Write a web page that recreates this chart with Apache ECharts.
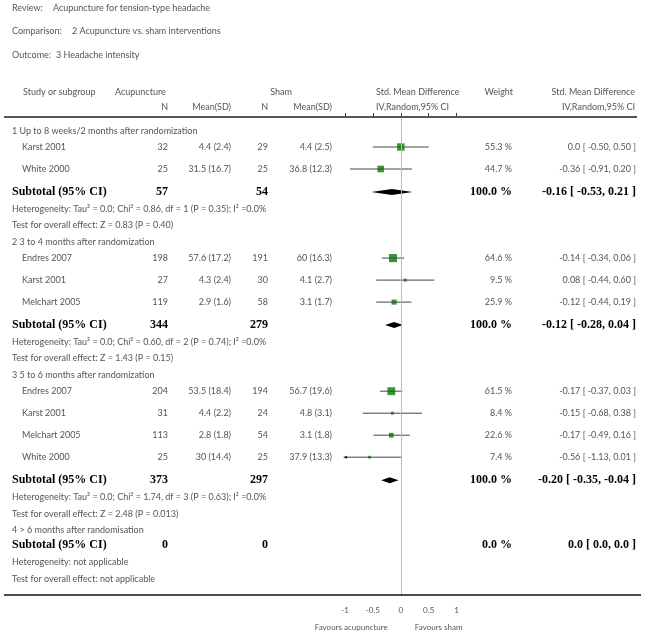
<!DOCTYPE html>
<html>
<head>
<meta charset="utf-8">
<script src="https://cdn.jsdelivr.net/npm/echarts@6/dist/echarts.min.js"></script>
<style>
html,body{margin:0;padding:0;background:#fff;}
#chart{width:647px;height:635px;}
</style>
</head>
<body>
<div id="chart"></div>
<script>
// ---------------- DATA ----------------
const reviewTitle = 'Acupuncture for tension-type headache';
const comparisonTitle = '2 Acupuncture vs. sham interventions';
const outcomeTitle = '3 Headache intensity';

const groupNames = [
  '1 Up to 8 weeks/2 months after randomization',
  '2 3 to 4 months after randomization',
  '3 5 to 6 months after randomization',
  '4 > 6 months after randomisation'
];

const studyNames = ['Karst 2001', 'White 2000', 'Endres 2007', 'Karst 2001', 'Melchart 2005',
                    'Endres 2007', 'Karst 2001', 'Melchart 2005', 'White 2000'];
const studyGroup = [0, 0, 1, 1, 1, 2, 2, 2, 2];
const acuN     = [32, 25, 198, 27, 119, 204, 31, 113, 25];
const acuMean  = [4.4, 31.5, 57.6, 4.3, 2.9, 53.5, 4.4, 2.8, 30];
const acuSD    = [2.4, 16.7, 17.2, 2.4, 1.6, 18.4, 2.2, 1.8, 14.4];
const shamN    = [29, 25, 191, 30, 58, 194, 24, 54, 25];
const shamMean = [4.4, 36.8, 60, 4.1, 3.1, 56.7, 4.8, 3.1, 37.9];
const shamSD   = [2.5, 12.3, 16.3, 2.7, 1.7, 19.6, 3.1, 1.8, 13.3];
const smd      = [0.0, -0.36, -0.14, 0.08, -0.12, -0.17, -0.15, -0.17, -0.56];
const ciLow    = [-0.50, -0.91, -0.34, -0.44, -0.44, -0.37, -0.68, -0.49, -1.13];
const ciHigh   = [0.50, 0.20, 0.06, 0.60, 0.19, 0.03, 0.38, 0.16, 0.01];
const weight   = [55.3, 44.7, 64.6, 9.5, 25.9, 61.5, 8.4, 22.6, 7.4];

const subAcuN   = [57, 344, 373, 0];
const subShamN  = [54, 279, 297, 0];
const subSmd    = [-0.16, -0.12, -0.20, 0.0];
const subLow    = [-0.53, -0.28, -0.35, 0.0];
const subHigh   = [0.21, 0.04, -0.04, 0.0];
const subWeight = [100.0, 100.0, 100.0, 0.0];
const hetText = [
  'Heterogeneity: Tau\u00b2 = 0.0; Chi\u00b2 = 0.86, df = 1 (P = 0.35); I\u00b2 =0.0%',
  'Heterogeneity: Tau\u00b2 = 0.0; Chi\u00b2 = 0.60, df = 2 (P = 0.74); I\u00b2 =0.0%',
  'Heterogeneity: Tau\u00b2 = 0.0; Chi\u00b2 = 1.74, df = 3 (P = 0.63); I\u00b2 =0.0%',
  'Heterogeneity: not applicable'
];
const testText = [
  'Test for overall effect: Z = 0.83 (P = 0.40)',
  'Test for overall effect: Z = 1.43 (P = 0.15)',
  'Test for overall effect: Z = 2.48 (P = 0.013)',
  'Test for overall effect: not applicable'
];
const xTicks = [-1, -0.5, 0, 0.5, 1];
const favoursLeft = 'Favours acupuncture';
const favoursRight = 'Favours sham';

// ---------------- LAYOUT ----------------
const W = 647, H = 635;
const tableTop = 117, tableBottom = 595;
const plotLeft = 345, plotWidth = 111.6;
const SANS = 'Lato, "Open Sans", sans-serif';
const SERIF = '"Liberation Serif", "DejaVu Serif", serif';
const TXT = '#555';
const FS = 9;

// build rows (y in layout units = px below the header rule)
const rows = [];
(function buildRows() {
  let y = 14, prev = null;
  function add(kind, extra) {
    if (prev !== null) {
      let adv = 16.7;
      if (kind === 'study') adv = (prev === 'study') ? 22 : 16;
      else if (kind === 'subtotal') adv = (prev === 'study') ? 23 : 15;
      y += adv;
    }
    rows.push(Object.assign({ kind: kind, y: y }, extra));
    prev = kind;
  }
  groupNames.forEach(function (g, gi) {
    add('group', { g: gi });
    studyNames.forEach(function (s, si) { if (studyGroup[si] === gi) add('study', { i: si }); });
    add('subtotal', { g: gi });
    add('het', { g: gi });
    add('test', { g: gi });
  });
})();

function fmt2(v) { return v === 0 ? '0.0' : v.toFixed(2); }
function fmtCI(e, l, h) { return fmt2(e) + ' [ ' + fmt2(l) + ', ' + fmt2(h) + ' ]'; }

const studyRows = rows.filter(r => r.kind === 'study');
const ciData = studyRows.map(r => [smd[r.i], ciLow[r.i], ciHigh[r.i], r.y]);
const sqData = studyRows.map(r => [smd[r.i], r.y, weight[r.i]]);
const dmData = rows.filter(r => r.kind === 'subtotal' && subWeight[r.g] > 0)
  .map(r => [subSmd[r.g], subLow[r.g], subHigh[r.g], r.y]);

const chart = echarts.init(document.getElementById('chart'), null, { renderer: 'canvas' });

const option = {
  backgroundColor: '#fff',
  animation: false,
  grid: { left: plotLeft, width: plotWidth, top: tableTop, height: tableBottom - tableTop },
  xAxis: {
    type: 'value', min: -1, max: 1, interval: 0.5,
    axisLine: { show: false },
    axisTick: { show: true, inside: true, length: 4, lineStyle: { color: '#333', width: 1 } },
    splitLine: { show: false },
    axisLabel: { show: true, margin: 11, fontSize: 8, color: TXT, fontFamily: SANS,
      formatter: function (v) { return String(v); } }
  },
  yAxis: { type: 'value', min: 0, max: tableBottom - tableTop, inverse: true, show: false },
  series: [
    {
      type: 'scatter', name: 'squares', data: sqData, z: 3,
      symbol: 'rect',
      symbolSize: function (val) { return 10 * Math.sqrt(val[2] / 100); },
      itemStyle: { color: '#008000' },
      markLine: {
        silent: true, symbol: 'none', label: { show: false },
        lineStyle: { color: '#bbb', width: 1, type: 'solid' },
        data: [{ xAxis: 0 }]
      }
    },
    {
      type: 'custom', name: 'ci', data: ciData, z: 4, clip: false,
      encode: { x: [0, 1, 2], y: 3 },
      renderItem: function (params, api) {
        const y = api.value(3);
        const lo = api.value(1), hi = api.value(2);
        const p1 = api.coord([Math.max(lo, -1), y]);
        const p2 = api.coord([Math.min(hi, 1), y]);
        const children = [{
          type: 'line',
          shape: { x1: p1[0], y1: p1[1], x2: p2[0], y2: p2[1] },
          style: { stroke: '#444', lineWidth: 1 }
        }];
        if (lo < -1) {
          children.push({ type: 'polygon', shape: { points: [[p1[0] - 2, p1[1]], [p1[0] + 2, p1[1] - 1.5], [p1[0] + 2, p1[1] + 1.5]] },
            style: { fill: '#222' } });
        }
        if (hi > 1) {
          children.push({ type: 'polygon', shape: { points: [[p2[0] + 2, p2[1]], [p2[0] - 2, p2[1] - 1.5], [p2[0] - 2, p2[1] + 1.5]] },
            style: { fill: '#222' } });
        }
        return { type: 'group', children: children };
      }
    },
    {
      type: 'custom', name: 'diamonds', data: dmData, z: 4, clip: false,
      encode: { x: [0, 1, 2], y: 3 },
      renderItem: function (params, api) {
        const y = api.value(3);
        const pl = api.coord([api.value(1), y]);
        const pe = api.coord([api.value(0), y]);
        const ph = api.coord([api.value(2), y]);
        return {
          type: 'polygon',
          shape: { points: [[pl[0], pl[1]], [pe[0], pe[1] - 3], [ph[0], ph[1]], [pe[0], pe[1] + 3]] },
          style: { fill: '#000' }
        };
      }
    }
  ]
};
chart.setOption(option);

// ---------------- TEXT (table) ----------------
function yPix(v) { return chart.convertToPixel({ gridIndex: 0 }, [0, v])[1]; }
function xPix(v) { return chart.convertToPixel({ gridIndex: 0 }, [v, 0])[0]; }
const g = [];
function txt(t, x, y, align, opts) {
  opts = opts || {};
  g.push({
    type: 'text', silent: true, z: 10,
    style: {
      text: t, x: x, y: y, align: align || 'left', verticalAlign: 'middle',
      fontSize: opts.size || FS, fontFamily: opts.family || SANS,
      fontWeight: opts.weight || 'normal', fill: opts.color || TXT
    }
  });
}
// titles
txt('Review:', 12, 8); txt(reviewTitle, 53, 8);
txt('Comparison:', 12, 31.5); txt(comparisonTitle, 72, 31.5);
txt('Outcome:', 12, 55.5); txt(outcomeTitle, 56, 55.5);
// headers
txt('Study or subgroup', 23, 92); txt('Acupuncture', 115, 92); txt('Sham', 292, 92, 'right');
txt('Std. Mean Difference', 376, 92); txt('Weight', 513, 92, 'right'); txt('Std. Mean Difference', 635, 92, 'right');
txt('N', 168, 107, 'right'); txt('Mean(SD)', 231, 107, 'right'); txt('N', 268, 107, 'right'); txt('Mean(SD)', 332, 107, 'right');
txt('IV,Random,95% CI', 376, 107); txt('IV,Random,95% CI', 635, 107, 'right');

rows.forEach(function (r) {
  const y = yPix(r.y);
  if (r.kind === 'group') txt(groupNames[r.g], 12, y);
  else if (r.kind === 'het') txt(hetText[r.g], 12, y);
  else if (r.kind === 'test') txt(testText[r.g], 12, y);
  else if (r.kind === 'study') {
    const i = r.i;
    txt(studyNames[i], 22, y);
    txt(String(acuN[i]), 168, y, 'right');
    txt(acuMean[i] + ' (' + acuSD[i] + ')', 231, y, 'right');
    txt(String(shamN[i]), 268, y, 'right');
    txt(shamMean[i] + ' (' + shamSD[i] + ')', 332, y, 'right');
    txt(weight[i].toFixed(1) + ' %', 512, y, 'right');
    txt(fmtCI(smd[i], ciLow[i], ciHigh[i]), 636, y, 'right');
  } else if (r.kind === 'subtotal') {
    const b = { family: SERIF, weight: 'bold', size: 12, color: '#000' };
    txt('Subtotal (95% CI)', 12, y, 'left', b);
    txt(String(subAcuN[r.g]), 168, y, 'right', b);
    txt(String(subShamN[r.g]), 268, y, 'right', b);
    txt(subWeight[r.g].toFixed(1) + ' %', 512, y, 'right', b);
    txt(fmtCI(subSmd[r.g], subLow[r.g], subHigh[r.g]), 636, y, 'right', b);
  }
});
// favours labels
const x0 = xPix(0);
txt(favoursLeft, x0 - 13, 627, 'right', { size: 8 });
txt(favoursRight, x0 + 14, 627, 'left', { size: 8 });
// rules
g.push({ type: 'line', silent: true, z: 9, shape: { x1: 4, y1: tableTop, x2: 637, y2: tableTop },
  style: { stroke: '#555', lineWidth: 2 } });
g.push({ type: 'line', silent: true, z: 9, shape: { x1: 4, y1: tableBottom, x2: 641, y2: tableBottom },
  style: { stroke: '#111', lineWidth: 1.5 } });

chart.setOption({ graphic: { elements: g } });
</script>
</body>
</html>
